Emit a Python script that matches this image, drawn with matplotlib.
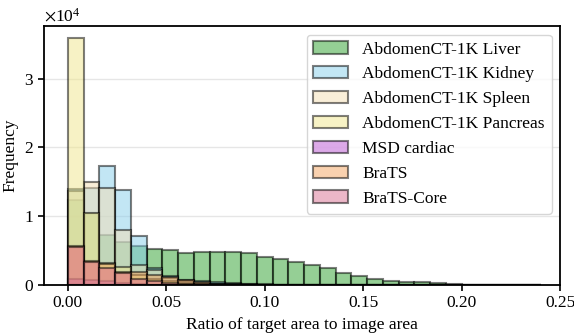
import numpy as np
import matplotlib
matplotlib.use('Agg')
import matplotlib.pyplot as plt

plt.rcParams['font.family'] = ['Liberation Serif', 'DejaVu Serif']
plt.rcParams['mathtext.fontset'] = 'stix'
plt.rcParams['font.size'] = 12.5

# 30 bins between 0 and 0.24, counts per bin
bin_edges = np.linspace(0, 0.24, 31)

liver = [12400, 10400, 7300, 6300, 5700, 5240, 5100, 4700, 4760, 4760,
         4850, 4610, 4030, 3740, 3300, 2910, 2430, 1700, 1350, 870,
         630, 480, 390, 250, 120, 60, 30, 10, 0, 0]
kidney = [13900, 14070, 17360, 13830, 7090, 2400, 1300, 700, 500, 400,
          250, 150, 100, 60, 40, 20, 10, 0, 0, 0,
          0, 0, 0, 0, 0, 0, 0, 0, 0, 0]
spleen = [13700, 15040, 14070, 8000, 2900, 2200, 1000, 600, 350, 200,
          150, 100, 60, 30, 20, 10, 0, 0, 0, 0,
          0, 0, 0, 0, 0, 0, 0, 0, 0, 0]
pancreas = [35900, 10500, 3150, 2660, 1500, 900, 500, 300, 200, 100,
            60, 30, 10, 0, 0, 0, 0, 0, 0, 0,
            0, 0, 0, 0, 0, 0, 0, 0, 0, 0]
msd_cardiac = [870, 700, 500, 300, 150, 50, 20, 0, 0, 0,
               0, 0, 0, 0, 0, 0, 0, 0, 0, 0,
               0, 0, 0, 0, 0, 0, 0, 0, 0, 0]
brats = [5600, 3500, 3000, 1900, 1940, 1400, 1100, 700, 400, 200,
         100, 50, 20, 10, 0, 0, 0, 0, 0, 0,
         0, 0, 0, 0, 0, 0, 0, 0, 0, 0]
brats_core = [5500, 3400, 2400, 1750, 900, 500, 300, 150, 80, 40,
              20, 10, 0, 0, 0, 0, 0, 0, 0, 0,
              0, 0, 0, 0, 0, 0, 0, 0, 0, 0]

labels = ['AbdomenCT-1K Liver', 'AbdomenCT-1K Kidney', 'AbdomenCT-1K Spleen',
          'AbdomenCT-1K Pancreas', 'MSD cardiac', 'BraTS', 'BraTS-Core']
colors = ['tab:green', 'skyblue', 'wheat', 'khaki', 'mediumorchid',
          'sandybrown', 'palevioletred']
series = [liver, kidney, spleen, pancreas, msd_cardiac, brats, brats_core]

fig = plt.figure(figsize=(5.74, 3.36), dpi=100)
ax = fig.add_axes([0.077, 0.152, 0.899, 0.771])

centers = (bin_edges[:-1] + bin_edges[1:]) / 2
for vals, lab, col in zip(series, labels, colors):
    ax.hist(centers, bins=bin_edges, weights=vals, color=col, alpha=0.5,
            edgecolor='black', linewidth=1.5, label=lab)

ax.set_xlim(-0.012, 0.25)
ax.set_xticks([0.0, 0.05, 0.10, 0.15, 0.20, 0.25])
ax.set_xticklabels(['0.00', '0.05', '0.10', '0.15', '0.20', '0.25'])
ax.set_yticks([0, 10000, 20000, 30000])
ax.ticklabel_format(axis='y', style='sci', scilimits=(0, 0), useMathText=True)

ax.set_axisbelow(True)
ax.yaxis.grid(True, color='#e6e6e6', linewidth=1)
for s in ax.spines.values():
    s.set_linewidth(1.3)
ax.tick_params(width=1.2, length=4)

ax.set_xlabel('Ratio of target area to image area')
ax.set_ylabel('Frequency')
ax.legend(loc='upper right')

fig.savefig('out.png', dpi=100)
